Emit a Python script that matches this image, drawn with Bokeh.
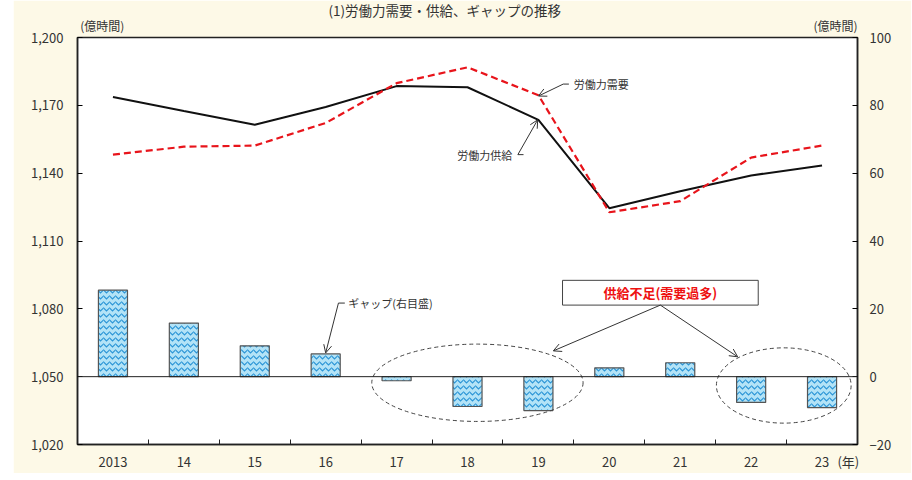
from bokeh.plotting import figure
from bokeh.models import (Range1d, LinearAxis, FixedTicker, NumeralTickFormatter, Span,
                          Label, Arrow, OpenHead, Title)
from bokeh.embed import file_html
from bokeh.resources import INLINE

# ---- data ----
years = ["2013", "14", "15", "16", "17", "18", "19", "20", "21", "22", "23"]
supply = [1173.7, 1167.5, 1161.4, 1169.3, 1178.5, 1178.0, 1163.6, 1124.5, 1132.0, 1139.0, 1143.4]
demand = [1148.2, 1151.7, 1152.2, 1162.2, 1179.8, 1186.8, 1174.5, 1122.7, 1127.6, 1146.9, 1152.2]
gap = [25.5, 15.8, 9.1, 6.7, -1.2, -8.8, -10.0, 2.6, 4.1, -7.6, -9.1]
left_ticks = [1020, 1050, 1080, 1110, 1140, 1170, 1200]
right_ticks = [-20, 0, 20, 40, 60, 80, 100]
title_text = "(1)労働力需要・供給、ギャップの推移"
unit_text = "(億時間)"
year_unit = "(年)"

FONT = "Noto Sans CJK JP"
BG = "#fdf9e7"
TXT = "#333333"

xs = [i + 0.5 for i in range(len(years))]

p = figure(width=898, height=473, output_backend="svg", toolbar_location=None,
           x_range=Range1d(0, len(years)), y_range=Range1d(1020, 1200),
           min_border_left=64, min_border_right=54, min_border_top=37, min_border_bottom=26)
p.margin = (0, 0, 0, 13)
p.title.visible = False
p.background_fill_color = "white"
p.border_fill_color = BG
p.outline_line_color = "#222222"
p.outline_line_width = 1.5
p.grid.visible = False
p.extra_y_ranges = {"right": Range1d(-20, 100)}

# x axis (year labels at centres, tick marks at boundaries, unit label after the last)
unit_pos = len(years) - 0.13
xa = p.xaxis[0]
xa.ticker = FixedTicker(ticks=xs + [unit_pos], minor_ticks=[i for i in range(1, len(years))])
overrides = {x: y for x, y in zip(xs, years)}
overrides[unit_pos] = year_unit
xa.major_label_overrides = overrides
xa.major_tick_in = 0
xa.major_tick_out = 0
xa.minor_tick_in = 5
xa.minor_tick_out = 0
xa.minor_tick_line_color = "#222222"
xa.axis_line_color = "#222222"
xa.axis_line_width = 1.5
xa.major_label_standoff = 7

# unit labels above the frame, over each value axis
left_unit_pos, right_unit_pos = 0.35, len(years) - 0.31
ua = LinearAxis(ticker=FixedTicker(ticks=[left_unit_pos, right_unit_pos]),
                major_label_overrides={left_unit_pos: unit_text, right_unit_pos: unit_text})
ua.axis_line_color = None
ua.major_tick_line_color = None
ua.minor_tick_line_color = None
ua.major_tick_in = 0
ua.major_tick_out = 0
ua.minor_tick_in = 0
ua.minor_tick_out = 0
ua.major_label_standoff = 4
ua.major_label_text_font = FONT
ua.major_label_text_font_size = "12px"
ua.major_label_text_color = TXT
p.add_layout(ua, "above")

# title
t = Title(text=title_text, align="left", offset=251, standoff=-12,
          text_font=FONT, text_font_size="13.5px", text_font_style="normal", text_color=TXT)
p.add_layout(t, "above")

# left axis
ya = p.yaxis[0]
ya.ticker = FixedTicker(ticks=left_ticks)
ya.formatter = NumeralTickFormatter(format="0,0")
ya.major_tick_in = 5
ya.major_tick_out = 0
ya.minor_tick_line_color = None
ya.axis_line_color = "#222222"
ya.axis_line_width = 1.5
ya.major_label_standoff = 14

# right axis
ra = LinearAxis(y_range_name="right", ticker=FixedTicker(ticks=right_ticks))
ra.major_tick_in = 5
ra.major_tick_out = 0
ra.minor_tick_line_color = None
ra.axis_line_color = "#222222"
ra.axis_line_width = 1.5
ra.major_label_standoff = 12
p.add_layout(ra, "right")

for ax in [xa, ya, ra]:
    ax.major_label_text_font = FONT
    ax.major_label_text_font_size = "13px"
    ax.major_label_text_color = TXT

# bars (gap, right axis)
p.vbar(x=xs, top=gap, bottom=0, width=0.41, y_range_name="right",
       fill_color="#b3e3f7", line_color="#555555", line_width=1.2,
       hatch_pattern="horizontal_wave", hatch_color="#2b95d6", hatch_scale=6, hatch_weight=1.2)

p.add_layout(Span(location=0, dimension="width", y_range_name="right",
                  line_color="#222222", line_width=1))

# lines
p.line(xs, supply, line_color="#111111", line_width=2)
p.line(xs, demand, line_color="#e8141b", line_width=2.2, line_dash="7 4")

# dashed ellipses
p.ellipse(x=[5.64, 9.96], y=[-1.8, -2.6], width=[2.98, 1.90], height=[22.8, 22.2],
          y_range_name="right", fill_color=None, line_color="#444444", line_width=1, line_dash="4 3")

# box with red text
p.quad(left=[6.84], right=[9.6], top=[28.4], bottom=[21.1], y_range_name="right",
       fill_color="white", line_color="#444444", line_width=1)
p.add_layout(Label(x=8.22, y=24.75, y_range_name="right", text="供給不足(需要過多)",
                   text_align="center", text_baseline="middle", text_font=FONT,
                   text_font_size="13px", text_font_style="bold", text_color="#ee1111"))

# arrows
def arrow(x0, y0, x1, y1, rng="default", size=8):
    a = Arrow(end=OpenHead(size=size, line_width=1, line_color="#333333"),
              x_start=x0, y_start=y0, x_end=x1, y_end=y1,
              line_color="#333333", line_width=1)
    if rng != "default":
        a.y_range_name = rng
    p.add_layout(a)

arrow(8.22, 21.1, 6.71, 7.6, "right")
arrow(8.22, 21.1, 9.31, 5.85, "right")
arrow(3.68, 21.7, 3.50, 7.0, "right")
arrow(6.85, 1179.4, 6.50, 1174.1)
arrow(6.21, 1148.2, 6.49, 1163.6)

# short lead dashes
p.segment(x0=[3.68], y0=[21.7], x1=[3.77], y1=[21.7], line_color="#333333", line_width=1,
          y_range_name="right")
p.segment(x0=[6.85, 6.21], y0=[1179.4, 1148.2], x1=[6.93, 6.29], y1=[1179.4, 1148.2],
          line_color="#333333", line_width=1)

def lab(x, y, txt, rng="default", align="left", size="11px", color=TXT):
    l = Label(x=x, y=y, text=txt, text_align=align, text_baseline="middle", text_font=FONT,
              text_font_size=size, text_color=color)
    if rng != "default":
        l.y_range_name = rng
    p.add_layout(l)

lab(3.82, 21.7, "ギャップ(右目盛)", "right")
lab(7.0, 1179.4, "労働力需要")
lab(6.13, 1148.2, "労働力供給", align="right")

open("out.html", "w").write(file_html(p, INLINE))
